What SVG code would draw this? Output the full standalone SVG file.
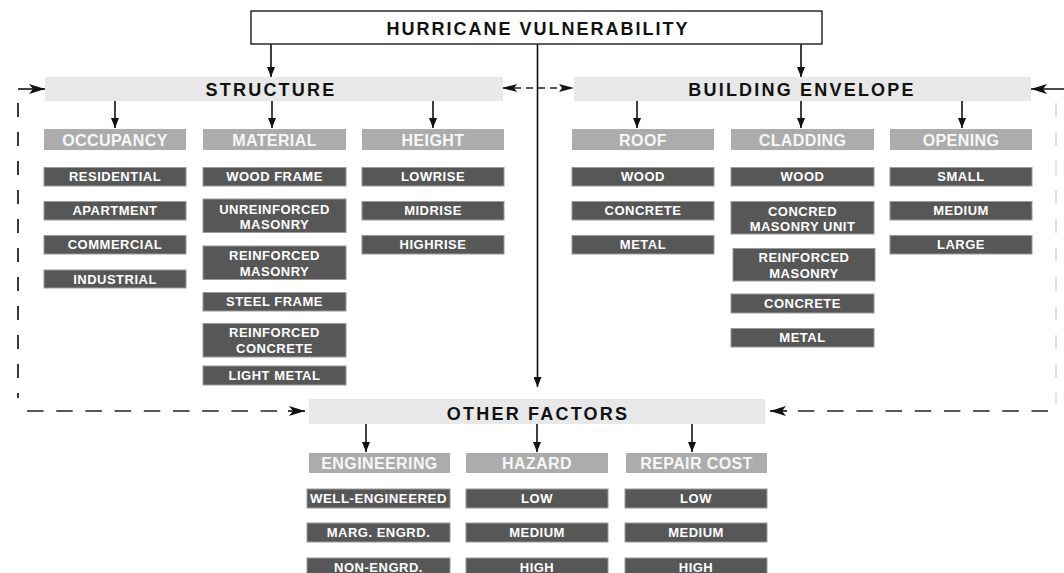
<svg xmlns="http://www.w3.org/2000/svg" width="1064" height="573" viewBox="0 0 1064 573">
<style>
.bg{fill:#ffffff}
.title-box{fill:#ffffff;stroke:#1a1a1a;stroke-width:1.4}
.hdr{fill:#e8e8e8}
.sub{fill:#acacac}
.item{fill:#575757;stroke:#9a9a9a;stroke-width:1}
text{font-family:"Liberation Sans",Arial,sans-serif;font-weight:bold;text-anchor:middle}
.t-title{font-size:18px;fill:#111;letter-spacing:2px}
.t-hdr{font-size:18px;fill:#111;letter-spacing:2.2px}
.t-sub{font-size:16px;fill:#f7f7f7;letter-spacing:0.4px}
.t-item{font-size:13px;fill:#ffffff;letter-spacing:0.5px}
.conn{fill:none;stroke:#111;stroke-width:1.6}
.dash{fill:none;stroke:#222;stroke-width:1.6;stroke-dasharray:16.5 12.7}
.dashv{fill:none;stroke:#222;stroke-width:1.8;stroke-dasharray:14 15}
.dashlight{fill:none;stroke:#dedede;stroke-width:1.8;stroke-dasharray:14 15}
.dashmid{fill:none;stroke:#222;stroke-width:1.4;stroke-dasharray:7 5}
</style>
<defs>
<marker id="tri" viewBox="0 0 10 8" markerWidth="10" markerHeight="8" refX="10" refY="4" orient="auto" markerUnits="userSpaceOnUse">
<path d="M0,0 L10,4 L0,8 Z" fill="#111"/>
</marker>
<marker id="barb" viewBox="0 0 16 10" markerWidth="16" markerHeight="10" refX="16" refY="5" orient="auto-start-reverse" markerUnits="userSpaceOnUse">
<path d="M0,0 L16,5 L0,10 L4,5 Z" fill="#111"/>
</marker>
<marker id="longtri" viewBox="0 0 15 8" markerWidth="15" markerHeight="8" refX="15" refY="4" orient="auto-start-reverse" markerUnits="userSpaceOnUse">
<path d="M0,0 L15,4 L0,8 L3,4 Z" fill="#111"/>
</marker>
</defs>
<rect class="bg" x="0" y="0" width="1064" height="573"/>

<g id="connectors">
<line class="conn" x1="271" y1="44" x2="271" y2="77" marker-end="url(#tri)"/>
<line class="conn" x1="801" y1="44" x2="801" y2="77" marker-end="url(#tri)"/>
<line class="conn" x1="537.5" y1="44" x2="537.5" y2="387" marker-end="url(#tri)"/>
<line class="conn" x1="115" y1="101" x2="115" y2="128" marker-end="url(#tri)"/>
<line class="conn" x1="272" y1="101" x2="272" y2="128" marker-end="url(#tri)"/>
<line class="conn" x1="433" y1="101" x2="433" y2="128" marker-end="url(#tri)"/>
<line class="conn" x1="637" y1="101" x2="637" y2="128" marker-end="url(#tri)"/>
<line class="conn" x1="801" y1="101" x2="801" y2="128" marker-end="url(#tri)"/>
<line class="conn" x1="962" y1="101" x2="962" y2="128" marker-end="url(#tri)"/>
<line class="conn" x1="366" y1="424" x2="366" y2="452" marker-end="url(#tri)"/>
<line class="conn" x1="537" y1="424" x2="537" y2="452" marker-end="url(#tri)"/>
<line class="conn" x1="692" y1="424" x2="692" y2="452" marker-end="url(#tri)"/>
<line class="dashmid" x1="502" y1="88" x2="574" y2="88" marker-start="url(#longtri)" marker-end="url(#longtri)"/>
<line class="conn" x1="18" y1="89" x2="45" y2="89" marker-end="url(#barb)"/>
<line class="conn" x1="1064" y1="89" x2="1031" y2="89" marker-end="url(#barb)"/>
<line class="dashv" x1="18" y1="103" x2="18" y2="398"/>
<line class="dash" x1="27" y1="411" x2="290" y2="411"/>
<line class="conn" x1="288" y1="411" x2="305" y2="411" marker-end="url(#barb)"/>
<line class="dashlight" x1="1056" y1="103" x2="1056" y2="404"/>
<line class="dash" x1="1048" y1="411" x2="786" y2="411"/>
<line class="conn" x1="787" y1="411" x2="770" y2="411" marker-end="url(#barb)"/>
</g>

<g id="hurricane-vulnerability">
<rect class="title-box" x="251" y="11" width="571" height="33"/>
<text class="t-title" x="538" y="35">HURRICANE VULNERABILITY</text>
</g>

<g id="structure">
<rect class="hdr" x="45" y="77" width="458" height="24"/>
<text class="t-hdr" x="271" y="96">STRUCTURE</text>
</g>
<g id="building-envelope">
<rect class="hdr" x="574" y="77" width="457" height="24"/>
<text class="t-hdr" x="802" y="96">BUILDING ENVELOPE</text>
</g>
<g id="other-factors">
<rect class="hdr" x="309" y="399" width="456" height="25"/>
<text class="t-hdr" x="538" y="419.5">OTHER FACTORS</text>
</g>

<g id="occupancy">
<rect class="sub" x="44" y="129" width="142" height="21"/>
<text class="t-sub" x="115" y="146">OCCUPANCY</text>
</g>
<g id="material">
<rect class="sub" x="203" y="129" width="143" height="21"/>
<text class="t-sub" x="274.5" y="146">MATERIAL</text>
</g>
<g id="height">
<rect class="sub" x="362" y="129" width="142" height="21"/>
<text class="t-sub" x="433" y="146">HEIGHT</text>
</g>
<g id="roof">
<rect class="sub" x="572" y="129" width="142" height="21"/>
<text class="t-sub" x="643" y="146">ROOF</text>
</g>
<g id="cladding">
<rect class="sub" x="731" y="129" width="143" height="21"/>
<text class="t-sub" x="802.5" y="146">CLADDING</text>
</g>
<g id="opening">
<rect class="sub" x="890" y="129" width="142" height="21"/>
<text class="t-sub" x="961" y="146">OPENING</text>
</g>
<g id="engineering">
<rect class="sub" x="309" y="453" width="141" height="20"/>
<text class="t-sub" x="379.5" y="469">ENGINEERING</text>
</g>
<g id="hazard">
<rect class="sub" x="466" y="453" width="142" height="20"/>
<text class="t-sub" x="537" y="469">HAZARD</text>
</g>
<g id="repair-cost">
<rect class="sub" x="626" y="453" width="141" height="20"/>
<text class="t-sub" x="696.5" y="469">REPAIR COST</text>
</g>

<!-- Occupancy items -->
<g id="occ-residential"><rect class="item" x="44" y="167.5" width="142" height="18.5"/><text class="t-item" x="115" y="181.3">RESIDENTIAL</text></g>
<g id="occ-apartment"><rect class="item" x="44" y="201.5" width="142" height="18.5"/><text class="t-item" x="115" y="215.3">APARTMENT</text></g>
<g id="occ-commercial"><rect class="item" x="44" y="235.5" width="142" height="18.5"/><text class="t-item" x="115" y="249.3">COMMERCIAL</text></g>
<g id="occ-industrial"><rect class="item" x="44" y="270" width="142" height="18"/><text class="t-item" x="115" y="283.5">INDUSTRIAL</text></g>

<!-- Material items -->
<g id="mat-wood-frame"><rect class="item" x="203" y="167.5" width="143" height="18.5"/><text class="t-item" x="274.5" y="181.3">WOOD FRAME</text></g>
<g id="mat-unreinforced-masonry"><rect class="item" x="203" y="199" width="143" height="33.5"/><text class="t-item" x="274.5" y="213.5">UNREINFORCED</text><text class="t-item" x="274.5" y="229">MASONRY</text></g>
<g id="mat-reinforced-masonry"><rect class="item" x="203" y="246" width="143" height="33.5"/><text class="t-item" x="274.5" y="260">REINFORCED</text><text class="t-item" x="274.5" y="275.5">MASONRY</text></g>
<g id="mat-steel-frame"><rect class="item" x="203" y="292.5" width="143" height="18.5"/><text class="t-item" x="274.5" y="306.3">STEEL FRAME</text></g>
<g id="mat-reinforced-concrete"><rect class="item" x="203" y="323.5" width="143" height="33.5"/><text class="t-item" x="274.5" y="337">REINFORCED</text><text class="t-item" x="274.5" y="352.5">CONCRETE</text></g>
<g id="mat-light-metal"><rect class="item" x="203" y="366" width="143" height="19"/><text class="t-item" x="274.5" y="380">LIGHT METAL</text></g>

<!-- Height items -->
<g id="hgt-lowrise"><rect class="item" x="362" y="167.5" width="142" height="18.5"/><text class="t-item" x="433" y="181.3">LOWRISE</text></g>
<g id="hgt-midrise"><rect class="item" x="362" y="201.5" width="142" height="18.5"/><text class="t-item" x="433" y="215.3">MIDRISE</text></g>
<g id="hgt-highrise"><rect class="item" x="362" y="235.5" width="142" height="18.5"/><text class="t-item" x="433" y="249.3">HIGHRISE</text></g>

<!-- Roof items -->
<g id="roof-wood"><rect class="item" x="572" y="167.5" width="142" height="18.5"/><text class="t-item" x="643" y="181.3">WOOD</text></g>
<g id="roof-concrete"><rect class="item" x="572" y="201.5" width="142" height="18.5"/><text class="t-item" x="643" y="215.3">CONCRETE</text></g>
<g id="roof-metal"><rect class="item" x="572" y="235.5" width="142" height="18.5"/><text class="t-item" x="643" y="249.3">METAL</text></g>

<!-- Cladding items -->
<g id="clad-wood"><rect class="item" x="731" y="167.5" width="143" height="18.5"/><text class="t-item" x="802.5" y="181.3">WOOD</text></g>
<g id="clad-cmu"><rect class="item" x="731" y="201.5" width="143" height="32.5"/><text class="t-item" x="802.5" y="215.5">CONCRED</text><text class="t-item" x="802.5" y="231">MASONRY UNIT</text></g>
<g id="clad-reinforced-masonry"><rect class="item" x="733" y="248.5" width="142" height="32.5"/><text class="t-item" x="804" y="262">REINFORCED</text><text class="t-item" x="804" y="277.5">MASONRY</text></g>
<g id="clad-concrete"><rect class="item" x="731" y="294" width="143" height="19"/><text class="t-item" x="802.5" y="308">CONCRETE</text></g>
<g id="clad-metal"><rect class="item" x="731" y="328.5" width="143" height="18.5"/><text class="t-item" x="802.5" y="342.3">METAL</text></g>

<!-- Opening items -->
<g id="open-small"><rect class="item" x="890" y="167.5" width="142" height="18.5"/><text class="t-item" x="961" y="181.3">SMALL</text></g>
<g id="open-medium"><rect class="item" x="890" y="201.5" width="142" height="18.5"/><text class="t-item" x="961" y="215.3">MEDIUM</text></g>
<g id="open-large"><rect class="item" x="890" y="235.5" width="142" height="18.5"/><text class="t-item" x="961" y="249.3">LARGE</text></g>

<!-- Engineering items -->
<g id="eng-well"><rect class="item" x="307" y="489" width="143" height="19"/><text class="t-item" x="378.5" y="503" textLength="137" lengthAdjust="spacingAndGlyphs">WELL-ENGINEERED</text></g>
<g id="eng-marg"><rect class="item" x="307" y="523" width="143" height="19"/><text class="t-item" x="378.5" y="537">MARG. ENGRD.</text></g>
<g id="eng-non"><rect class="item" x="307" y="558" width="143" height="19"/><text class="t-item" x="378.5" y="572">NON-ENGRD.</text></g>

<!-- Hazard items -->
<g id="haz-low"><rect class="item" x="466" y="489" width="142" height="19"/><text class="t-item" x="537" y="503">LOW</text></g>
<g id="haz-medium"><rect class="item" x="466" y="523" width="142" height="19"/><text class="t-item" x="537" y="537">MEDIUM</text></g>
<g id="haz-high"><rect class="item" x="466" y="558" width="142" height="19"/><text class="t-item" x="537" y="572">HIGH</text></g>

<!-- Repair cost items -->
<g id="rep-low"><rect class="item" x="625" y="489" width="142" height="19"/><text class="t-item" x="696" y="503">LOW</text></g>
<g id="rep-medium"><rect class="item" x="625" y="523" width="142" height="19"/><text class="t-item" x="696" y="537">MEDIUM</text></g>
<g id="rep-high"><rect class="item" x="625" y="558" width="142" height="19"/><text class="t-item" x="696" y="572">HIGH</text></g>
</svg>
